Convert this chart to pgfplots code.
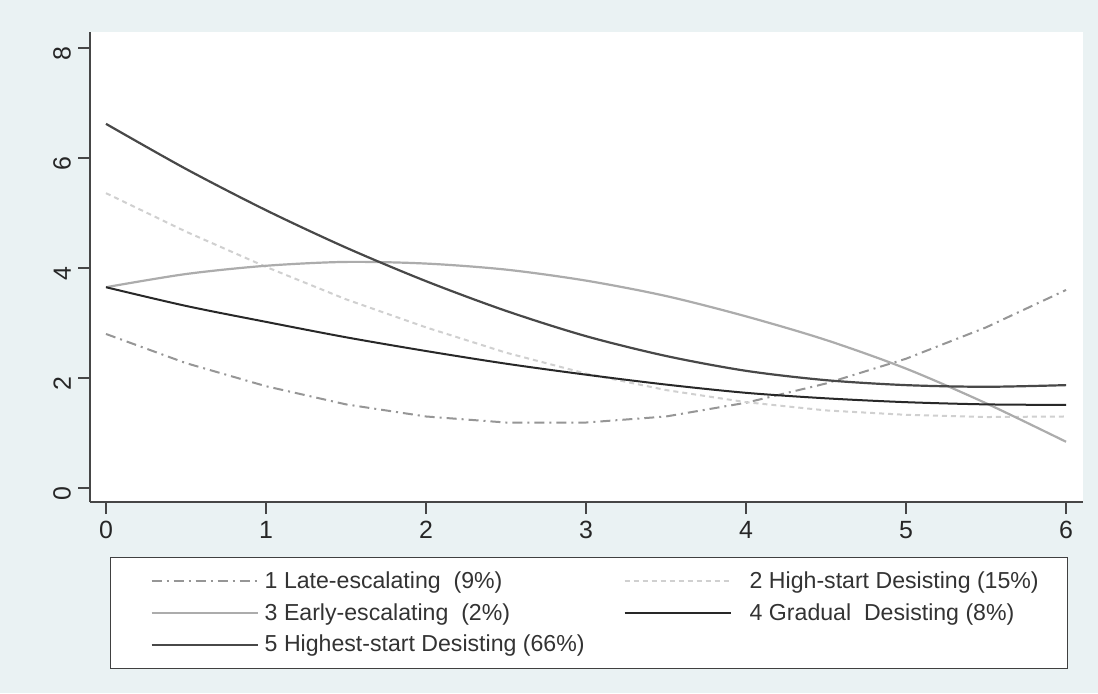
\documentclass[border=0pt]{standalone}
\usepackage{fontspec}
\setmainfont{Liberation Sans}
\usepackage{pgfplots}
\pgfplotsset{compat=1.18}
\definecolor{bgc}{RGB}{234,242,243}
\definecolor{cA}{RGB}{150,150,150}
\definecolor{cB}{RGB}{208,208,208}
\definecolor{cC}{RGB}{172,172,172}
\definecolor{cD}{RGB}{40,40,40}
\definecolor{cE}{RGB}{72,72,72}
\definecolor{axc}{RGB}{70,70,70}
\begin{document}
\begin{tikzpicture}[x=1bp,y=1bp]
\fill[bgc] (-45,-95.5) rectangle (504,251);
\begin{axis}[
  at={(0,0)}, anchor=south west,
  scale only axis, width=496.5bp, height=235bp,
  xmin=-0.1, xmax=6.106, ymin=-0.255, ymax=8.29,
  axis lines*=left,
  axis line style={axc, line width=0.8bp},
  axis background/.style={fill=white},
  xtick={0,1,2,3,4,5,6}, ytick={0,2,4,6,8},
  tick align=outside, major tick length=6bp,
  tick style={axc, line width=0.8bp},
  ticklabel style={font=\fontsize{12.5}{14}\selectfont, text=black!85},
  /pgf/number format/assume math mode=true,
  yticklabel style={rotate=90, anchor=south, xshift=-3bp},
  legend columns=2,
  legend style={at={(axis description cs:0.0201,-0.117)}, anchor=north west,
    draw=black!75, line width=0.6bp, fill=white,
    inner xsep=12.5bp, inner ysep=5bp,
    font=\fontsize{11.6}{13.5}\selectfont, text=black!80,
    row sep=2bp,
    /tikz/every odd column/.append style={column sep=1bp},
    /tikz/every even column/.append style={column sep=0bp},
    cells={anchor=west, inner sep=0pt}},
  legend image code/.code={\path (0bp,0bp); \draw[#1] (7.5bp,0bp) -- (60.5bp,0bp);},
]
\addplot[cA, line width=1bp, dash pattern=on 5bp off 2.5bp on 1bp off 2.5bp] coordinates {
(0,2.80) (0.5,2.27) (1,1.85) (1.5,1.52) (2,1.30) (2.5,1.19) (3,1.19) (3.5,1.30) (4,1.55) (4.5,1.90) (5,2.35) (5.5,2.92) (6,3.60)};
\addlegendentry{\makebox[170bp][l]{1 Late-escalating \ (9\%)}}
\addplot[cB, line width=1bp, dash pattern=on 2.5bp off 2bp] coordinates {
(0,5.36) (0.5,4.66) (1,4.02) (1.5,3.43) (2,2.92) (2.5,2.46) (3,2.08) (3.5,1.78) (4,1.56) (4.5,1.41) (5,1.33) (5.5,1.29) (6,1.30)};
\addlegendentry{\hspace{6bp}2 High-start Desisting (15\%)}
\addplot[cC, line width=1.1bp, smooth] coordinates {
(0,3.65) (0.5,3.89) (1,4.04) (1.5,4.11) (2,4.08) (2.5,3.97) (3,3.77) (3.5,3.49) (4,3.12) (4.5,2.69) (5,2.17) (5.5,1.54) (6,0.84)};
\addlegendentry{\makebox[170bp][l]{3 Early-escalating \ (2\%)}}
\addplot[cD, line width=1bp, smooth] coordinates {
(0,3.65) (0.5,3.31) (1,3.02) (1.5,2.74) (2,2.49) (2.5,2.26) (3,2.06) (3.5,1.88) (4,1.73) (4.5,1.63) (5,1.56) (5.5,1.52) (6,1.51)};
\addlegendentry{\hspace{6bp}4 Gradual \ Desisting (8\%)}
\addplot[cE, line width=1.1bp, smooth] coordinates {
(0,6.62) (0.5,5.80) (1,5.05) (1.5,4.37) (2,3.76) (2.5,3.22) (3,2.76) (3.5,2.40) (4,2.13) (4.5,1.96) (5,1.87) (5.5,1.84) (6,1.87)};
\addlegendentry{\makebox[170bp][l]{5 Highest-start Desisting (66\%)}}
\end{axis}
\end{tikzpicture}
\end{document}
